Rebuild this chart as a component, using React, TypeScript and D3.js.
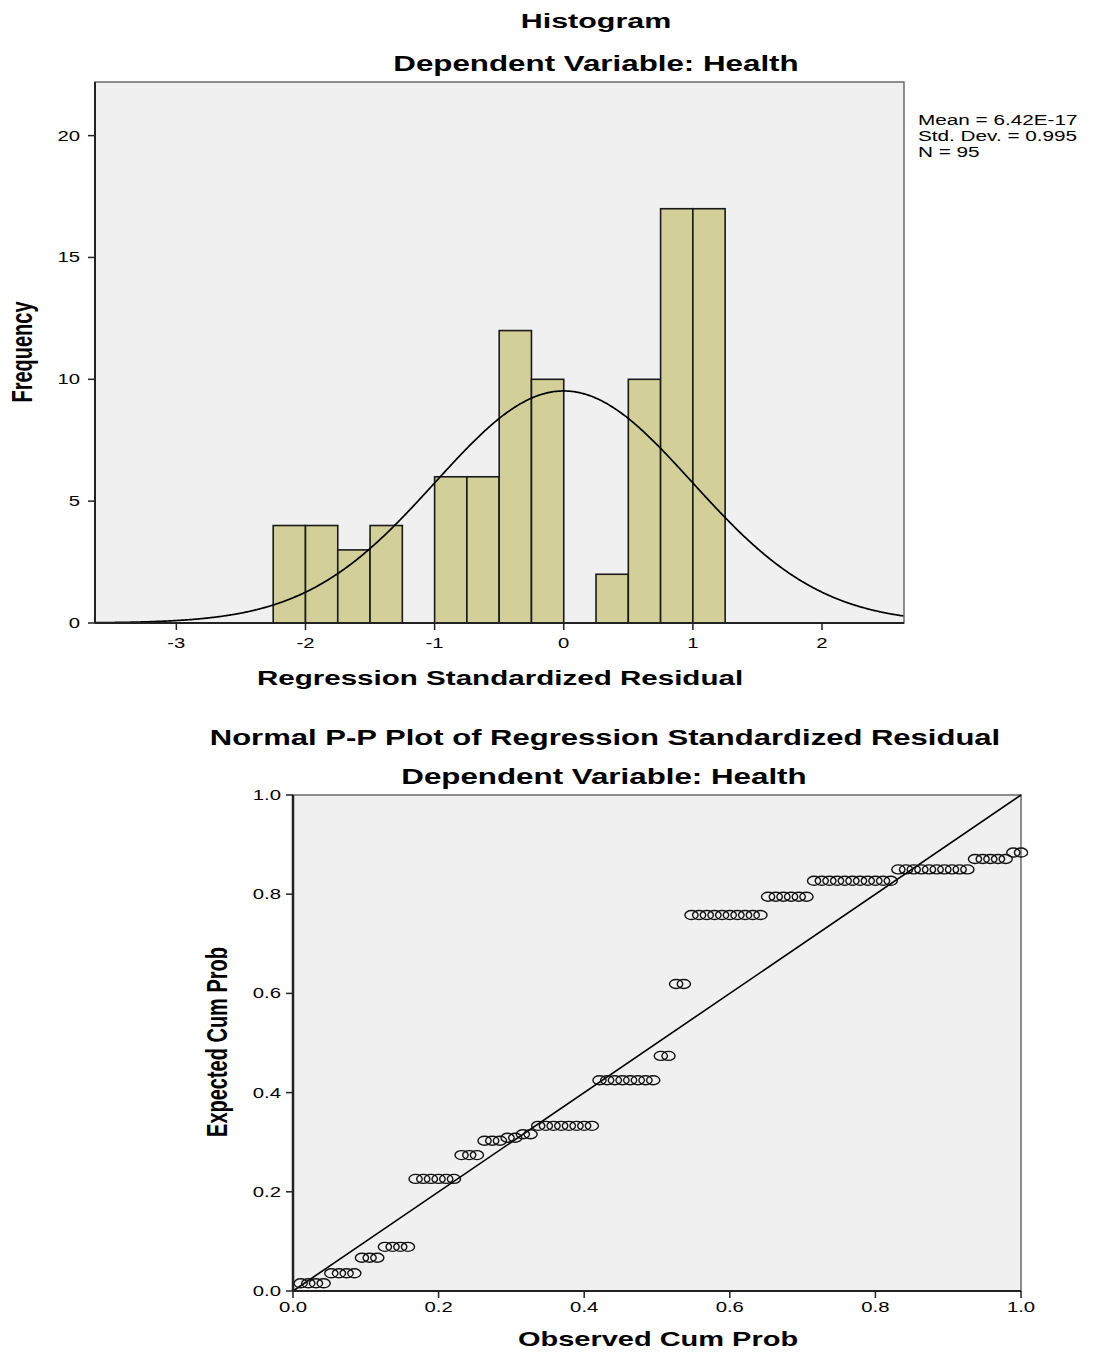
import React from 'react';
import * as d3 from 'd3';

// ---------- data ----------
const binStarts = [-2.25, -2.0, -1.75, -1.5, -1.25, -1.0, -0.75, -0.5, -0.25, 0.0, 0.25, 0.5, 0.75, 1.0];
const binCounts = [4, 4, 3, 4, 0, 6, 6, 12, 10, 0, 2, 10, 17, 17];
const BIN_WIDTH = 0.25;
const histXTicks = [-3, -2, -1, 0, 1, 2];
const histYTicks = [0, 5, 10, 15, 20];
const residMean = 6.42e-17;
const residSD = 0.995;
const residN = 95;
const legendLines = ['Mean = 6.42E-17', 'Std. Dev. = 0.995', 'N = 95'];

const ppGroupCounts = [4, 4, 3, 4, 6, 3, 3, 2, 2, 8, 8, 2, 2, 10, 6, 11, 10, 5, 2];
const ppGroupExpected = [0.0155, 0.0357, 0.067, 0.089, 0.226, 0.274, 0.303, 0.309, 0.316, 0.333, 0.425, 0.474, 0.619, 0.758, 0.795, 0.827, 0.85, 0.871, 0.884];
const ppTicks = [0, 0.2, 0.4, 0.6, 0.8, 1.0];

// ---------- layout ----------
const W = 1099;
const H = 1353;
const SX = 1.45; // horizontal stretch of the original picture
const FONT = "'Liberation Sans', Arial, sans-serif";

function STxt(props: { x: number; y: number; size: number; bold?: boolean; anchor?: string; rot?: boolean; children: any }) {
  const { x, y, size, bold, anchor = 'middle', rot = false, children } = props;
  return (
    <text
      transform={`translate(${x},${y}) scale(${SX},1)${rot ? ' rotate(-90)' : ''}`}
      fontSize={size}
      fontWeight={bold ? 'bold' : 'normal'}
      textAnchor={anchor as any}
      fontFamily={FONT}
      fill="#000"
    >
      {children}
    </text>
  );
}

export default function App() {
  // Histogram scales
  const hx = d3.scaleLinear().domain([-3.63, 2.635]).range([95, 904]);
  const hy = d3.scaleLinear().domain([0, 22.2]).range([623, 82]);
  const hLeft = 95, hRight = 904, hTop = 82, hBottom = 623;

  const normalPdf = (x: number) =>
    Math.exp(-0.5 * ((x - residMean) / residSD) ** 2) / (residSD * Math.sqrt(2 * Math.PI));
  const curvePts = d3.range(-3.63, 2.636, 0.01).map((x) => [x, residN * BIN_WIDTH * normalPdf(x)] as [number, number]);
  const curvePath = d3.line<[number, number]>().x((d) => hx(d[0])).y((d) => hy(d[1])).curve(d3.curveBasis)(curvePts) || '';

  // P-P scales
  const px = d3.scaleLinear().domain([0, 1]).range([293, 1021]);
  const py = d3.scaleLinear().domain([0, 1]).range([1291, 795]);
  const pLeft = 293, pRight = 1021, pTop = 795, pBottom = 1291;

  const ppPoints: { o: number; e: number }[] = [];
  let rank = 0;
  ppGroupCounts.forEach((c, g) => {
    for (let k = 0; k < c; k++) {
      rank += 1;
      ppPoints.push({ o: rank / residN, e: ppGroupExpected[g] });
    }
  });
  const fmt1 = d3.format('.1f');

  return (
    <svg width={W} height={H} style={{ position: 'absolute', left: 0, top: 0, background: '#fff' }}>
      <rect x={0} y={0} width={W} height={H} fill="#fff" />

      {/* ---------------- Histogram ---------------- */}
      <STxt x={596} y={28} size={21} bold>Histogram</STxt>
      <STxt x={596} y={71} size={21.6} bold>Dependent Variable: Health</STxt>

      <rect x={hLeft} y={hTop} width={hRight - hLeft} height={hBottom - hTop} fill="#f0f0f0" stroke="#6a6a6a" strokeWidth={1.5} />

      {binStarts.map((b, i) =>
        binCounts[i] > 0 ? (
          <rect
            key={'bar' + i}
            x={hx(b)}
            y={hy(binCounts[i])}
            width={hx(b + BIN_WIDTH) - hx(b)}
            height={hy(0) - hy(binCounts[i])}
            fill="#d3cf98"
            stroke="#1a1a1a"
            strokeWidth={1.6}
          />
        ) : null
      )}

      <path d={curvePath} fill="none" stroke="#000" strokeWidth={1.7} />

      <line x1={hLeft} x2={hLeft} y1={hTop} y2={hBottom} stroke="#222" strokeWidth={2} />
      <line x1={hLeft} x2={hRight} y1={hBottom} y2={hBottom} stroke="#222" strokeWidth={2} />

      {histYTicks.map((t) => (
        <g key={'hy' + t}>
          <line x1={hLeft - 7} x2={hLeft} y1={hy(t)} y2={hy(t)} stroke="#222" strokeWidth={1.5} />
          <STxt x={hLeft - 15} y={hy(t) + 5} size={14} anchor="end">{String(t)}</STxt>
        </g>
      ))}
      {histXTicks.map((t) => (
        <g key={'hx' + t}>
          <line x1={hx(t)} x2={hx(t)} y1={hBottom} y2={hBottom + 7} stroke="#222" strokeWidth={1.5} />
          <STxt x={hx(t)} y={hBottom + 25} size={14}>{String(t)}</STxt>
        </g>
      ))}

      <STxt x={500} y={685} size={20.4} bold>Regression Standardized Residual</STxt>
      <STxt x={32} y={352} size={20} bold rot>Frequency</STxt>

      {legendLines.map((l, i) => (
        <STxt key={'lg' + i} x={918} y={125 + i * 16} size={14.3} anchor="start">{l}</STxt>
      ))}

      {/* ---------------- P-P plot ---------------- */}
      <STxt x={605} y={745} size={21.4} bold>Normal P-P Plot of Regression Standardized Residual</STxt>
      <STxt x={604} y={784} size={21.6} bold>Dependent Variable: Health</STxt>

      <rect x={pLeft} y={pTop} width={pRight - pLeft} height={pBottom - pTop} fill="#f0f0f0" stroke="#6a6a6a" strokeWidth={1.5} />

      <line x1={px(0)} y1={py(0)} x2={px(1)} y2={py(1)} stroke="#000" strokeWidth={1.6} />

      {ppPoints.map((p, i) => (
        <ellipse key={'pp' + i} cx={px(p.o)} cy={py(p.e)} rx={6.6} ry={4.5} fill="none" stroke="#111" strokeWidth={1.4} />
      ))}

      <line x1={pLeft} x2={pLeft} y1={pTop} y2={pBottom} stroke="#222" strokeWidth={2.5} />
      <line x1={pLeft} x2={pRight} y1={pBottom} y2={pBottom} stroke="#222" strokeWidth={2} />

      {ppTicks.map((t) => (
        <g key={'py' + t}>
          <line x1={pLeft - 7} x2={pLeft} y1={py(t)} y2={py(t)} stroke="#222" strokeWidth={1.5} />
          <STxt x={pLeft - 12} y={py(t) + 5} size={14} anchor="end">{fmt1(t)}</STxt>
        </g>
      ))}
      {ppTicks.map((t) => (
        <g key={'px' + t}>
          <line x1={px(t)} x2={px(t)} y1={pBottom} y2={pBottom + 7} stroke="#222" strokeWidth={1.5} />
          <STxt x={px(t)} y={pBottom + 21} size={14}>{fmt1(t)}</STxt>
        </g>
      ))}

      <STxt x={658} y={1346} size={20} bold>Observed Cum Prob</STxt>
      <STxt x={227} y={1042} size={20} bold rot>Expected Cum Prob</STxt>
    </svg>
  );
}
